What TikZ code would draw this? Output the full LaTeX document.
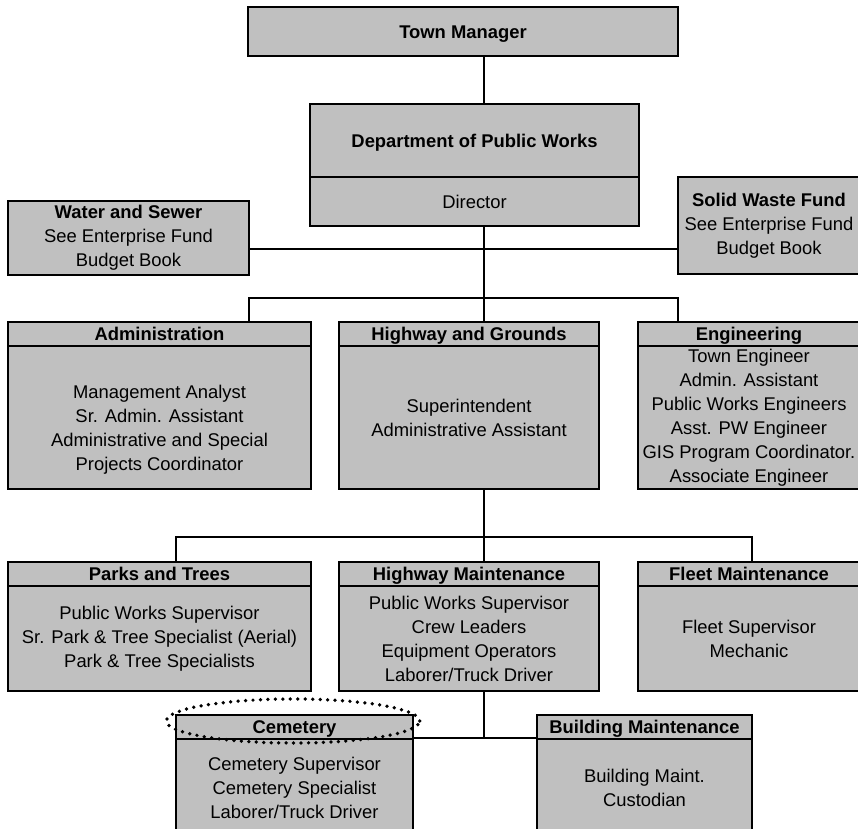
\documentclass[tikz,border=0pt]{standalone}
\usepackage{fontspec}
\setmainfont{Liberation Sans}
\usetikzlibrary{positioning}
\definecolor{boxgray}{RGB}{192,192,192}
\tikzstyle{unit} = [rectangle, draw=black, fill=boxgray, line width=1.4pt, outer sep=0pt, inner sep=0pt, text centered, align=center, font=\fontsize{13.8}{18}\selectfont]
\tikzstyle{head} = [unit, minimum height=18pt, text height=12.5pt, text depth=2.6pt, font=\fontsize{13.8}{18}\selectfont\bfseries]
\tikzstyle{body} = [unit]
\tikzstyle{link} = [line width=1.4pt, black]
\tikzstyle{ring} = [line width=2.8pt, black, line cap=round, dash pattern=on 0pt off 5.6pt]

\begin{document}
\begin{tikzpicture}[x=0.75pt, y=-0.75pt]

    \useasboundingbox (0,0) rectangle (858,829);

    % top of the chart
    \node (tm) [head, minimum width=322.5pt, minimum height=36.75pt] at (463,31.5) {Town Manager};
    \node (dpwhead) [head, minimum width=246.75pt, minimum height=54.75pt] at (474.5,140.5) {Department of Public Works};
    \node (dpw) [body, below=0pt of dpwhead, minimum width=246.75pt, minimum height=36.75pt] {Director};

    \node (ws) [body, minimum width=180.75pt, minimum height=55.5pt] at (128.5,238) {\textbf{Water and Sewer}\\See Enterprise Fund\\Budget Book};
    \node (sw) [body, minimum width=136.5pt, minimum height=72.75pt] at (769,225.5) {\textbf{Solid Waste Fund}\\See Enterprise Fund\\Budget Book};

    % divisions
    \node (adm) [head, minimum width=227.25pt] at (159.5,334) {Administration};
    \node (admbody) [body, below=0pt of adm, minimum width=227.25pt, minimum height=107.25pt] {\mbox{}\\[10pt]Management Analyst\\Sr. Admin. Assistant\\Administrative and Special\\Projects Coordinator};

    \node (hg) [head, minimum width=195pt] at (469,334) {Highway and Grounds};
    \node (hgbody) [body, below=0pt of hg, minimum width=195pt, minimum height=107.25pt] {Superintendent\\Administrative Assistant};

    \node (eng) [head, minimum width=166.5pt] at (749,334) {Engineering};
    \node (engbody) [body, below=0pt of eng, minimum width=166.5pt, minimum height=107.25pt] {Town Engineer\\Admin. Assistant\\Public Works Engineers\\Asst. PW Engineer\\GIS Program Coordinator.\\Associate Engineer};

    % highway and grounds sections
    \node (pt) [head, minimum width=227.25pt] at (159.5,574) {Parks and Trees};
    \node (ptbody) [body, below=0pt of pt, minimum width=227.25pt, minimum height=78.75pt] {Public Works Supervisor\\Sr. Park \& Tree Specialist (Aerial)\\Park \& Tree Specialists};

    \node (hm) [head, minimum width=195pt] at (469,574) {Highway Maintenance};
    \node (hmbody) [body, below=0pt of hm, minimum width=195pt, minimum height=78.75pt] {Public Works Supervisor\\Crew Leaders\\Equipment Operators\\Laborer/Truck Driver};

    \node (fm) [head, minimum width=166.5pt] at (749,574) {Fleet Maintenance};
    \node (fmbody) [body, below=0pt of fm, minimum width=166.5pt, minimum height=78.75pt] {Fleet Supervisor\\Mechanic};

    \node (cem) [head, minimum width=177.75pt] at (294.5,727) {Cemetery};
    \node (cembody) [body, below=0pt of cem, minimum width=177.75pt, minimum height=73.5pt] {Cemetery Supervisor\\Cemetery Specialist\\Laborer/Truck Driver};

    \node (bm) [head, minimum width=161.25pt] at (644.5,727) {Building Maintenance};
    \node (bmbody) [body, below=0pt of bm, minimum width=161.25pt, minimum height=73.5pt] {Building Maint.\\Custodian};

    % connectors
    \coordinate (trunk) at (484,249);
    \coordinate (busl) at (249,298);
    \coordinate (busr) at (678,298);
    \coordinate (lowl) at (176,537);
    \coordinate (lowr) at (752,537);
    \coordinate (last) at (484,738);

    \draw [link] (tm.south -| trunk) -- (dpwhead.north -| trunk);
    \draw [link] (ws.east |- trunk) -- (sw.west |- trunk);
    \draw [link] (dpw.south -| trunk) -- (hg.north -| trunk);
    \draw [link] (adm.north -| busl) -- (busl) -- (busr) -- (eng.north -| busr);

    \draw [link] (hgbody.south -| trunk) -- (hm.north -| trunk);
    \draw [link] (pt.north -| lowl) -- (lowl) -- (lowr) -- (fm.north -| lowr);

    \draw [link] (hmbody.south -| trunk) -- (last);
    \draw [link] (cem.east |- last) -- (bm.west |- last);

    % mark round the cemetery
    \draw [ring] (293,721) ellipse [x radius=95pt, y radius=16.5pt];

\end{tikzpicture}
\end{document}
